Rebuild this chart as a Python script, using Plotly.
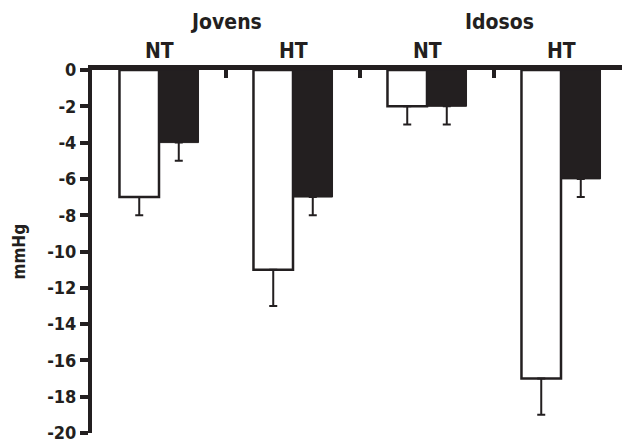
import plotly.graph_objects as go

groups = ["Jovens NT", "Jovens HT", "Idosos NT", "Idosos HT"]
white_vals = [-7, -11, -2, -17]
white_err = [1, 2, 1, 2]
black_vals = [-4, -7, -2, -6]
black_err = [1, 1, 1, 1]
y_ticks = [0, -2, -4, -6, -8, -10, -12, -14, -16, -18, -20]

INK = "#231f20"
FONT = "Liberation Sans Narrow, DejaVu Sans Condensed, Arial Narrow, sans-serif"

xpos = list(range(len(groups)))

fig = go.Figure()
fig.add_trace(go.Bar(
    x=xpos, y=white_vals, name="white",
    marker=dict(color="white", line=dict(color=INK, width=2.5)),
    error_y=dict(type="data", symmetric=False, array=[0]*4, arrayminus=white_err,
                 color=INK, thickness=2, width=4),
))
fig.add_trace(go.Bar(
    x=xpos, y=black_vals, name="black",
    marker=dict(color=INK, line=dict(color=INK, width=1)),
    error_y=dict(type="data", symmetric=False, array=[0]*4, arrayminus=black_err,
                 color=INK, thickness=2, width=4),
))

# the page body has an 8px default margin, so the figure is sized to fit the window
fig.update_layout(
    width=622, height=435,
    margin=dict(l=84, r=2, t=62, b=10),
    paper_bgcolor="white", plot_bgcolor="white",
    barmode="group", bargap=0.41, bargroupgap=0,
    showlegend=False,
    font=dict(family=FONT, color=INK),
)
fig.update_xaxes(
    range=[-0.5, 3.5], side="top", showline=True, linecolor=INK, linewidth=5,
    showgrid=False, zeroline=False, automargin=False,
    tickmode="array", tickvals=[0.5, 1.5, 2.5, 3.5], ticktext=["", "", "", ""],
    ticks="inside", ticklen=8, tickwidth=4, tickcolor=INK,
)
fig.update_yaxes(
    range=[-20, 0], showline=True, linecolor=INK, linewidth=4,
    showgrid=False, zeroline=False, automargin=False, ticklabeloverflow="allow",
    tickmode="array", tickvals=y_ticks, ticktext=[str(v) for v in y_ticks],
    ticks="outside", ticklen=8, tickwidth=4, tickcolor=INK,
    tickfont=dict(family=FONT, size=18, color=INK, weight="bold"),
)

labels = [("NT", 0, 1.052), ("HT", 1, 1.052), ("NT", 2, 1.052), ("HT", 3, 1.052),
          ("Jovens", 0.5, 1.131), ("Idosos", 2.54, 1.131)]
for txt, x, y in labels:
    fig.add_annotation(x=x, y=y, xref="x", yref="paper", text="<b>%s</b>" % txt,
                       showarrow=False, xanchor="center", yanchor="middle",
                       font=dict(family=FONT, size=21, color=INK))

fig.add_annotation(x=-0.138, y=0.5, xref="paper", yref="paper", text="<b>mmHg</b>",
                   showarrow=False, textangle=-90, xanchor="center", yanchor="middle",
                   font=dict(family=FONT, size=17, color=INK))

fig.write_html("out.html")
